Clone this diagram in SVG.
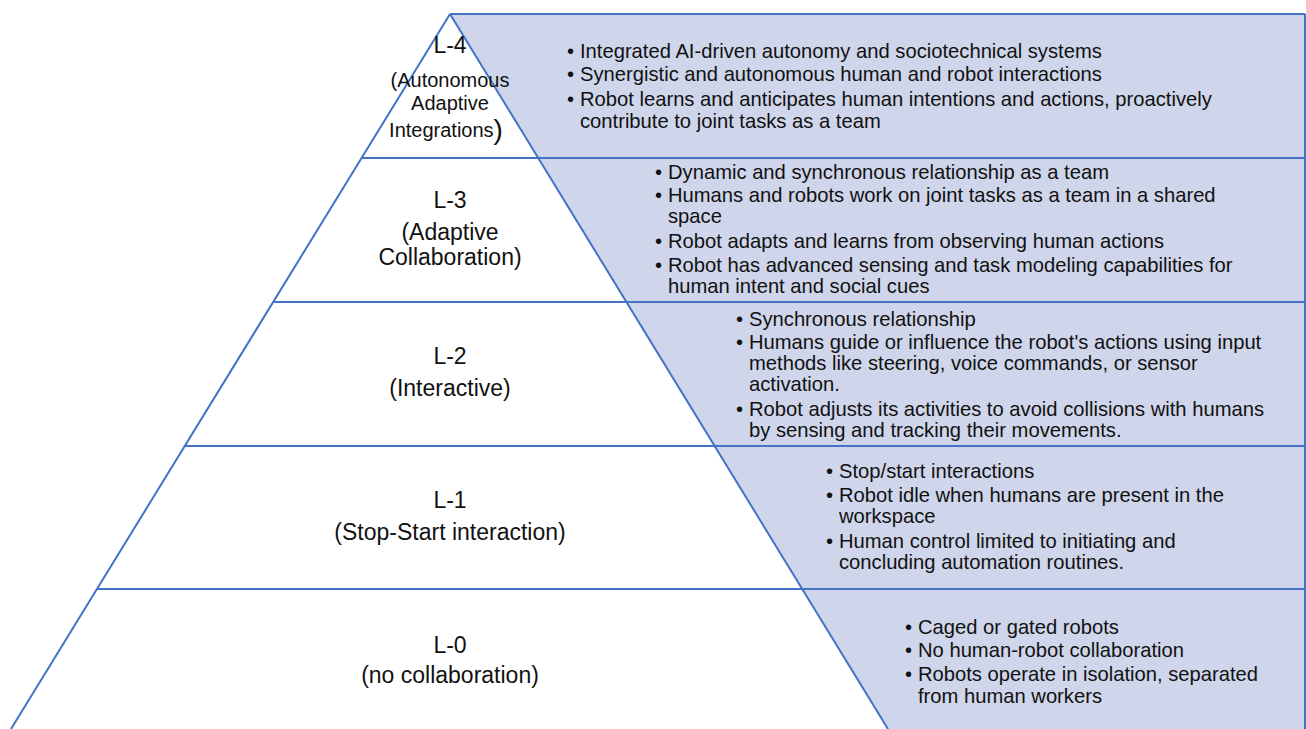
<svg xmlns="http://www.w3.org/2000/svg" width="1306" height="729" viewBox="0 0 1306 729">
<style>
.ln{stroke:#4472c4;stroke-width:2;fill:none}
.band{fill:#cfd5ea;stroke:none}
.lbl{font-family:"Liberation Sans",Arial,sans-serif;font-size:23px;fill:#111;text-anchor:middle}
.sub{font-family:"Liberation Sans",Arial,sans-serif;font-size:20px;fill:#111;text-anchor:middle}
.bt{font-family:"Liberation Sans",Arial,sans-serif;font-size:20.2px;fill:#111}
</style>
<rect width="1306" height="729" fill="#ffffff"/>
<g id="band">
<polygon class="band" points="450,14 1305,14 1305,729 888,729"/>
</g>
<g id="connectors">
<line class="ln" x1="450" y1="14" x2="1305" y2="14"/>
<line class="ln" x1="1305" y1="14" x2="1305" y2="729"/>
<line class="ln" x1="450" y1="14" x2="11" y2="729"/>
<line class="ln" x1="450" y1="14" x2="888" y2="729"/>
<line class="ln" x1="361.6" y1="158" x2="1305" y2="158"/>
<line class="ln" x1="273" y1="302" x2="1305" y2="302"/>
<line class="ln" x1="185" y1="446" x2="1305" y2="446"/>
<line class="ln" x1="97" y1="589" x2="1305" y2="589"/>
</g>
<g id="L4">
<text class="lbl" x="450" y="53">L-4</text>
<text class="sub" x="450" y="87">(Autonomous</text>
<text class="sub" x="450" y="110">Adaptive</text>
<text class="sub" x="446" y="137">Integrations<tspan font-size="28" dy="2">)</tspan></text>
<text class="bt" x="567" y="58">•</text>
<text class="bt" x="580" y="58">Integrated AI-driven autonomy and sociotechnical systems</text>
<text class="bt" x="567" y="81">•</text>
<text class="bt" x="580" y="81">Synergistic and autonomous human and robot interactions</text>
<text class="bt" x="567" y="106">•</text>
<text class="bt" x="580" y="106">Robot learns and anticipates human intentions and actions, proactively</text>
<text class="bt" x="580" y="128">contribute to joint tasks as a team</text>
</g>
<g id="L3">
<text class="lbl" x="450" y="208">L-3</text>
<text class="lbl" x="450" y="240">(Adaptive</text>
<text class="lbl" x="450" y="265">Collaboration)</text>
<text class="bt" x="655" y="179">•</text>
<text class="bt" x="668" y="179">Dynamic and synchronous relationship as a team</text>
<text class="bt" x="655" y="202">•</text>
<text class="bt" x="668" y="202">Humans and robots work on joint tasks as a team in a shared</text>
<text class="bt" x="668" y="223">space</text>
<text class="bt" x="655" y="248">•</text>
<text class="bt" x="668" y="248">Robot adapts and learns from observing human actions</text>
<text class="bt" x="655" y="272">•</text>
<text class="bt" x="668" y="272">Robot has advanced sensing and task modeling capabilities for</text>
<text class="bt" x="668" y="293">human intent and social cues</text>
</g>
<g id="L2">
<text class="lbl" x="450" y="364">L-2</text>
<text class="lbl" x="450" y="396">(Interactive)</text>
<text class="bt" x="736" y="326">•</text>
<text class="bt" x="749" y="326">Synchronous relationship</text>
<text class="bt" x="736" y="349">•</text>
<text class="bt" x="749" y="349">Humans guide or influence the robot's actions using input</text>
<text class="bt" x="749" y="370">methods like steering, voice commands, or sensor</text>
<text class="bt" x="749" y="391">activation.</text>
<text class="bt" x="736" y="416">•</text>
<text class="bt" x="749" y="416">Robot adjusts its activities to avoid collisions with humans</text>
<text class="bt" x="749" y="437">by sensing and tracking their movements.</text>
</g>
<g id="L1">
<text class="lbl" x="450" y="508">L-1</text>
<text class="lbl" x="450" y="540">(Stop-Start interaction)</text>
<text class="bt" x="826" y="478">•</text>
<text class="bt" x="839" y="478">Stop/start interactions</text>
<text class="bt" x="826" y="502">•</text>
<text class="bt" x="839" y="502">Robot idle when humans are present in the</text>
<text class="bt" x="839" y="523">workspace</text>
<text class="bt" x="826" y="548">•</text>
<text class="bt" x="839" y="548">Human control limited to initiating and</text>
<text class="bt" x="839" y="569">concluding automation routines.</text>
</g>
<g id="L0">
<text class="lbl" x="450" y="653">L-0</text>
<text class="lbl" x="450" y="683">(no collaboration)</text>
<text class="bt" x="905" y="634">•</text>
<text class="bt" x="918" y="634">Caged or gated robots</text>
<text class="bt" x="905" y="657">•</text>
<text class="bt" x="918" y="657">No human-robot collaboration</text>
<text class="bt" x="905" y="681">•</text>
<text class="bt" x="918" y="681">Robots operate in isolation, separated</text>
<text class="bt" x="918" y="703">from human workers</text>
</g>
</svg>
